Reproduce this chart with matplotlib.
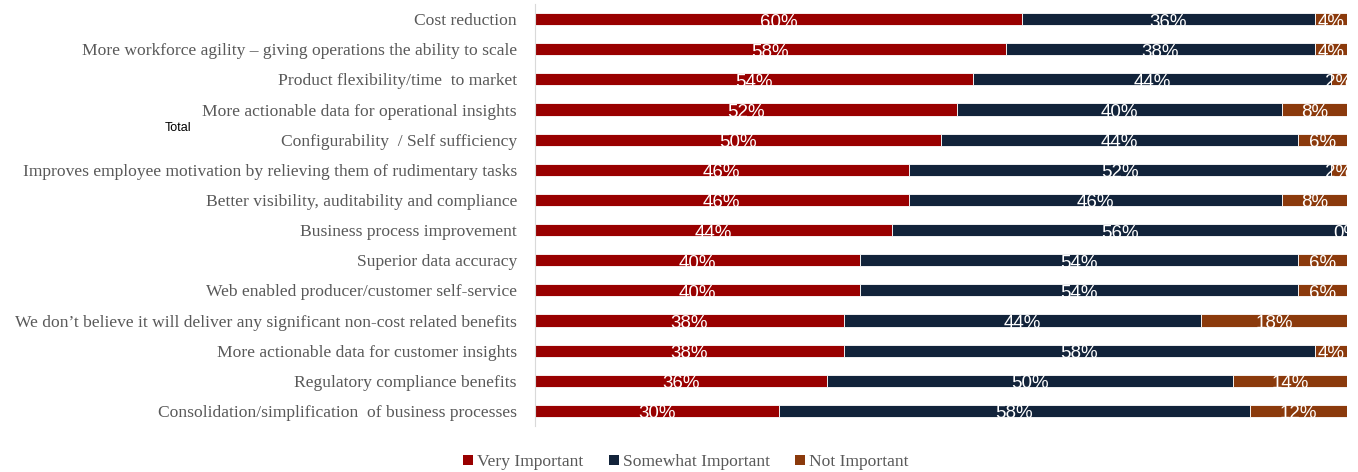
import matplotlib.pyplot as plt
from matplotlib.patches import Patch
import numpy as np

categories = [
    "Cost reduction",
    "More workforce agility \u2013 giving operations the ability to scale",
    "Product flexibility/time  to market",
    "More actionable data for operational insights",
    "Configurability  / Self sufficiency",
    "Improves employee motivation by relieving them of rudimentary tasks",
    "Better visibility, auditability and compliance",
    "Business process improvement",
    "Superior data accuracy",
    "Web enabled producer/customer self-service",
    "We don\u2019t believe it will deliver any significant non-cost related benefits",
    "More actionable data for customer insights",
    "Regulatory compliance benefits",
    "Consolidation/simplification  of business processes",
]
very_important = [60, 58, 54, 52, 50, 46, 46, 44, 40, 40, 38, 38, 36, 30]
somewhat_important = [36, 38, 44, 40, 44, 52, 46, 56, 54, 54, 44, 58, 50, 58]
not_important = [4, 4, 2, 8, 6, 2, 8, 0, 6, 6, 18, 4, 14, 12]

series = [
    ("Very Important", very_important, "#990000"),
    ("Somewhat Important", somewhat_important, "#12233a"),
    ("Not Important", not_important, "#8b3a0c"),
]

fig = plt.figure(figsize=(13.58, 4.72), dpi=100)
ax = fig.add_axes([535 / 1358, 1 - 426 / 472, 812 / 1358, 422 / 472])

y = np.arange(len(categories))
left = np.zeros(len(categories))
for name, vals, color in series:
    vals = np.array(vals, dtype=float)
    ax.barh(y, vals, left=left, height=0.4, color=color,
            edgecolor="white", linewidth=0.6, label=name)
    for yi, l, v in zip(y, left, vals):
        ax.text(l + v / 2, yi + 0.1, f"{int(v)}%", ha="center", va="center",
                color="white", fontsize=13.5, family="Liberation Sans",
                clip_on=True)
    left += vals

ax.set_xlim(0, 100)
ax.set_ylim(len(categories) - 0.5, -0.5)
ax.set_yticks(y)
ax.set_yticklabels(categories, family="Liberation Serif", fontsize=12.6,
                   color="#595959")
ax.tick_params(axis="y", length=0, pad=13)
ax.set_xticks([])
for s in ["top", "right", "bottom"]:
    ax.spines[s].set_visible(False)
ax.spines["left"].set_color("#d9d9d9")

fig.text(165 / 1358, 1 - 128 / 472, "Total", family="Liberation Sans",
         fontsize=9, color="black", va="center")

handles = [Patch(facecolor=c, label=n) for n, _, c in series]
fig.legend(handles=handles, loc="center", bbox_to_anchor=(686 / 1358, 1 - 462 / 472),
           ncol=3, frameon=False, handlelength=0.55, handleheight=0.55,
           handletextpad=0.25, columnspacing=1.45,
           prop={"family": "Liberation Serif", "size": 12.6},
           labelcolor="#595959")

fig.savefig("out.png", dpi=100)
